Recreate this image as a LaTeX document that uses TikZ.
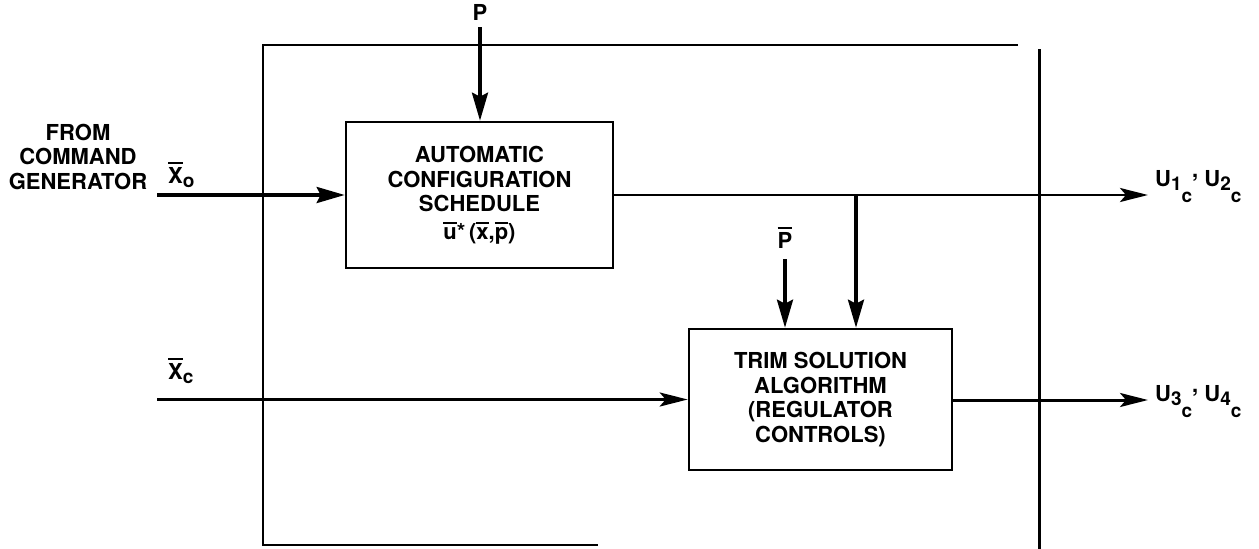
\documentclass[tikz,border=0pt]{standalone}
\usepackage{fontspec}
\setmainfont{TeX Gyre Heros}
\usetikzlibrary{arrows.meta}
\newcommand\ovl[1]{\setbox0\hbox{#1}\rlap{\raisebox{\dimexpr\ht0+3pt\relax}{\rule{\wd0}{2pt}}}\box0}
\newcommand\sbs[2]{\raisebox{-#1}{\fontsize{19}{19}\selectfont #2}}
\begin{document}
\begin{tikzpicture}[x=1pt,y=-1pt,
  font=\fontsize{22}{24.5}\selectfont\bfseries,
  blockbox/.style={draw,line width=2.6pt,inner sep=0pt,align=center},
  lbl/.style={inner sep=0pt},
  flow/.style={line width=3.6pt,-{Stealth[length=28pt,width=16pt,inset=4pt]}},
  thinflow/.style={line width=2pt,-{Stealth[length=28pt,width=14pt,inset=6pt]}},
  frame/.style={line width=2.6pt}]
\useasboundingbox (0,0) rectangle (1259,549);

% outer frame
\coordinate (ftr) at (1018,45);
\coordinate (ftl) at (263,45);
\coordinate (fbl) at (263,545);
\coordinate (fbr) at (598,545);
\draw[frame] (ftr) -- (ftl) -- (fbl) -- (fbr);
\coordinate (rt) at (1039,49);
\coordinate (rb) at (1039,549);
\draw[line width=3pt] (rt) -- (rb);

% blocks
\node[blockbox,minimum width=267pt,minimum height=146pt] (acs) at (479.5,195)
  {AUTOMATIC\\CONFIGURATION\\SCHEDULE\\[3pt]\ovl{u}*\,(\ovl{x},\ovl{p})};
\node[blockbox,minimum width=263pt,minimum height=141pt] (tsa) at (820.5,399.5)
  {TRIM SOLUTION\\ALGORITHM\\(REGULATOR\\CONTROLS)};

% labels
\node[lbl,align=center] (from) at (78,156.5) {FROM\\COMMAND\\GENERATOR};
\node[lbl,anchor=base] (plbl) at (480,20) {P};
\node[lbl,anchor=base] (pbarlbl) at (785,248) {\ovl{P}};
\node[lbl,anchor=base west] (xolbl) at (168,183) {\ovl{X}\sbs{4pt}{o}};
\node[lbl,anchor=base west] (xclbl) at (168,379) {\ovl{X}\sbs{4pt}{c}};
\node[lbl,anchor=base west] (u12) at (1155,186)
  {U\sbs{4pt}{1\sbs{12pt}{c}}\raisebox{9pt}{,} U\sbs{4pt}{2\sbs{12pt}{c}}};
\node[lbl,anchor=base west] (u34) at (1155,401)
  {U\sbs{4pt}{3\sbs{12pt}{c}}\raisebox{9pt}{,} U\sbs{4pt}{4\sbs{12pt}{c}}};

% connectors
\coordinate (pin) at (480,27);
\draw[flow] (pin) -- (pin |- acs.north);
\coordinate (xoin) at (157,195);
\draw[flow] (xoin) -- (acs.west);
\coordinate (u12out) at (1148,195);
\draw[thinflow,line width=2.8pt] (acs.east) -- (u12out);
\coordinate (br) at (856,195);
\draw[flow] (br) -- (br |- tsa.north);
\coordinate (pbin) at (785,259);
\draw[flow] (pbin) -- (pbin |- tsa.north);
\coordinate (xcin) at (157,399.5);
\draw[thinflow,line width=3pt] (xcin) -- (tsa.west);
\coordinate (u34out) at (1148,400);
\draw[thinflow,line width=3pt] (tsa.east |- u34out) -- (u34out);
\end{tikzpicture}
\end{document}
